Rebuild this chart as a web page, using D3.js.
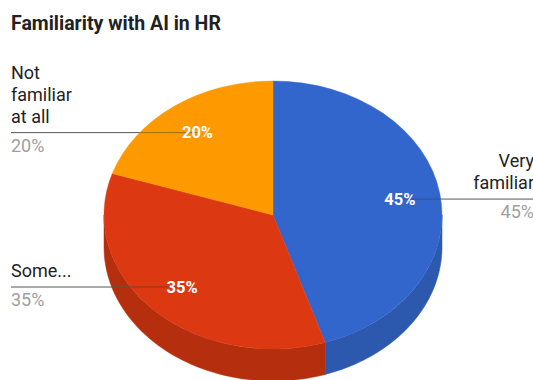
<!DOCTYPE html>
<html>
<head>
<meta charset="utf-8">
<script src="https://cdn.jsdelivr.net/npm/d3@7"></script>
<style>
  html, body { margin: 0; padding: 0; background: #fff; }
  svg { display: block; font-family: Roboto, "Noto Sans", sans-serif; }
</style>
</head>
<body>
<svg id="chart" width="533" height="380"></svg>
<script>
// Survey answers, clockwise from 12 o'clock
const categories = ["Very familiar", "Some...", "Not familiar at all"];
const labelLines = [["Very", "familiar"], ["Some..."], ["Not", "familiar", "at all"]];
const values = [45, 35, 20];
const colors = ["#3366cc", "#dc3912", "#ff9900"];
const sideColors = ["#2c58ad", "#b52f0f", "#d17f00"];
const title = "Familiarity with AI in HR";

const W = 533, H = 380;
const cx = 273, cy = 215;      // centre of the top face
const rx = 169, ry = 134;      // ellipse radii of the top face
const depth = 32;              // thickness of the disc
const labelFrac = 0.76;        // radial position of the in-slice text

const svg = d3.select("#chart");

svg.append("text")
  .attr("x", 11).attr("y", 30)
  .attr("font-size", 19.5).attr("font-weight", "bold").attr("fill", "#222")
  .text(title);

const pie = d3.pie().sort(null).value(d => d)(values);
const total = d3.sum(values);
const pct = v => Math.round(v / total * 100) + "%";

// point on the ellipse for a clockwise angle measured from the top
const ex = a => cx + rx * Math.sin(a);
const ey = a => cy - ry * Math.cos(a);

// visible side walls: the part of each slice between 90° and 270°
const sides = svg.append("g");
pie.forEach((p, i) => {
  const a0 = Math.max(p.startAngle, Math.PI / 2);
  const a1 = Math.min(p.endAngle, 3 * Math.PI / 2);
  if (a1 <= a0) return;
  const n = 60;
  const steps = d3.range(n + 1).map(k => a0 + (a1 - a0) * k / n);
  const pts = steps.map(a => [ex(a), ey(a)])
    .concat(steps.slice().reverse().map(a => [ex(a), ey(a) + depth]));
  sides.append("path")
    .attr("d", d3.line()(pts) + "Z")
    .attr("fill", sideColors[i])
    .attr("stroke", sideColors[i]).attr("stroke-width", 0.5);
});

// top face: circular arcs squashed into an ellipse
const arc = d3.arc().innerRadius(0).outerRadius(rx);
svg.append("g")
  .attr("transform", `translate(${cx},${cy}) scale(1,${ry / rx})`)
  .selectAll("path").data(pie).join("path")
  .attr("d", arc)
  .attr("fill", (d, i) => colors[i])
  .attr("stroke", (d, i) => colors[i]).attr("stroke-width", 0.5);

// in-slice label anchors
const anchors = pie.map(p => {
  const m = (p.startAngle + p.endAngle) / 2;
  return {
    x: cx + rx * labelFrac * Math.sin(m),
    y: cy - ry * labelFrac * Math.cos(m),
    right: Math.sin(m) > 0
  };
});

// outside labels with leader lines (the part over the pie is lighter)
const outer = svg.append("g");
anchors.forEach((a, i) => {
  const x = a.right ? 534 : 11;
  const anchor = a.right ? "end" : "start";
  const edge = cx + (a.right ? 1 : -1) * rx * Math.sqrt(Math.max(0, 1 - ((a.y - cy) / ry) ** 2));
  outer.append("line")
    .attr("x1", x).attr("x2", edge)
    .attr("y1", a.y).attr("y2", a.y)
    .attr("stroke", "#555").attr("stroke-width", 1);
  outer.append("line")
    .attr("x1", edge).attr("x2", a.x)
    .attr("y1", a.y).attr("y2", a.y)
    .attr("stroke", "#333").attr("stroke-width", 1).attr("stroke-opacity", 0.45);
  const lines = labelLines[i];
  lines.forEach((t, k) => {
    outer.append("text")
      .attr("x", x).attr("y", a.y - 10 - (lines.length - 1 - k) * 22)
      .attr("text-anchor", anchor)
      .attr("font-size", 18).attr("fill", "#222")
      .text(t);
  });
  outer.append("text")
    .attr("x", x).attr("y", a.y + 19)
    .attr("text-anchor", anchor)
    .attr("font-size", 18).attr("fill", "#a0a0a0")
    .text(pct(values[i]));
});

// percentage text inside each slice
svg.append("g").selectAll("text").data(pie).join("text")
  .attr("x", (d, i) => anchors[i].x)
  .attr("y", (d, i) => anchors[i].y)
  .attr("text-anchor", "middle")
  .attr("dominant-baseline", "central")
  .attr("font-size", 16.5).attr("font-weight", "bold").attr("fill", "#fff")
  .text(d => pct(d.value));
</script>
</body>
</html>
